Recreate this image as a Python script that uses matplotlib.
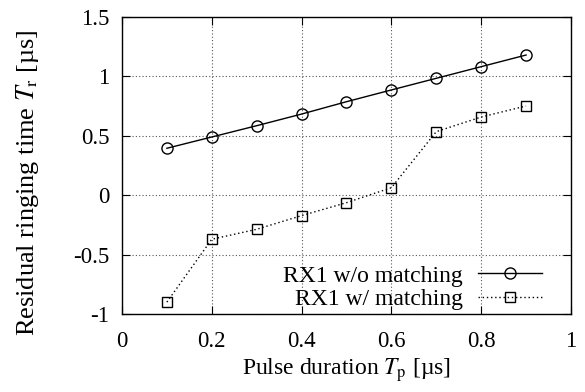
import matplotlib.pyplot as plt

plt.rcParams['font.family'] = ['Liberation Serif', 'DejaVu Serif']
plt.rcParams['mathtext.fontset'] = 'stix'
plt.rcParams['font.size'] = 16.5

pulse = [0.1, 0.2, 0.3, 0.4, 0.5, 0.6, 0.7, 0.8, 0.9]
tr_without = [0.395, 0.49, 0.585, 0.683, 0.787, 0.886, 0.984, 1.082, 1.18]
tr_with = [-0.90, -0.371, -0.287, -0.172, -0.063, 0.063, 0.535, 0.658, 0.751]

fig = plt.figure(figsize=(5.85, 3.92), dpi=100)
ax = fig.add_axes([0.2085, 0.199, 0.7675, 0.7576])

ax.plot(pulse, tr_without, color='black', lw=1.0, marker='o', ms=8,
        mfc='none', mec='black', mew=1.0, label='RX1 w/o matching')
ax.plot(pulse, tr_with, color='black', lw=1.0, ls=(0, (1, 2)), marker='s', ms=7,
        mfc='none', mec='black', mew=1.0, label='RX1 w/ matching')

ax.set_xlim(0, 1)
ax.set_ylim(-1, 1.5)
ax.set_xticks([0, 0.2, 0.4, 0.6, 0.8, 1])
ax.set_xticklabels(['0', '0.2', '0.4', '0.6', '0.8', '1'])
ax.set_yticks([-1, -0.5, 0, 0.5, 1, 1.5])
ax.set_yticklabels(['-1', '-0.5', '0', '0.5', '1', '1.5'])
ax.tick_params(direction='in', top=True, right=True, length=6, width=0.8)
ax.tick_params(axis='x', pad=12)
ax.tick_params(axis='y', pad=9)
ax.grid(True, ls=(0, (1, 2)), color='#555555', lw=0.8)
for s in ax.spines.values():
    s.set_linewidth(1.0)

ax.set_xlabel('Pulse duration $T_\\mathrm{p}$ [µs]', fontsize=17, labelpad=3)
ax.set_ylabel('Residual ringing time $T_\\mathrm{r}$ [µs]', fontsize=19)
ax.yaxis.set_label_coords(-0.181, 0.441)

ax.legend(loc='lower right', bbox_to_anchor=(0.935, 0.012), markerfirst=False,
          frameon=False, handlelength=2.7, handletextpad=0.65, labelspacing=0.1,
          borderpad=0.0, borderaxespad=0.0, fontsize=17)

fig.savefig('out.png', dpi=100)
